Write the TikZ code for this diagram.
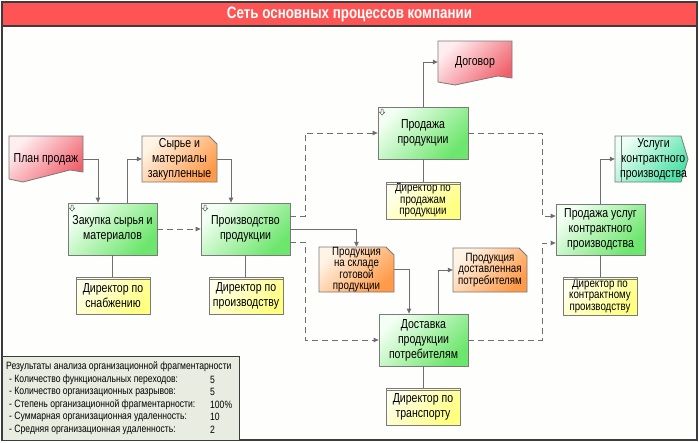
\documentclass[tikz,border=0pt]{standalone}
\usepackage{fontspec}
\setmainfont{Liberation Sans}[FakeStretch=0.81]
\usetikzlibrary{arrows.meta}
\definecolor{framec}{HTML}{3C3C3C}
\definecolor{titlered}{HTML}{FF5454}
\definecolor{connc}{HTML}{6E6E6E}
\definecolor{boxline}{HTML}{7A7A7A}
\definecolor{grnA}{HTML}{F2FFF2}
\definecolor{grnB}{HTML}{6CE66C}
\definecolor{yelA}{HTML}{FFFFEC}
\definecolor{yelB}{HTML}{FFFF80}
\definecolor{orA}{HTML}{FFF4E6}
\definecolor{orB}{HTML}{FF9A48}
\definecolor{pkA}{HTML}{FFEEF0}
\definecolor{pkB}{HTML}{F0606C}
\definecolor{tlA}{HTML}{ECFFF6}
\definecolor{tlB}{HTML}{4CE0A6}
\definecolor{resfill}{HTML}{E9EDE1}
\definecolor{canvas}{HTML}{FEFEFC}
\tikzset{
  base/.style={inner sep=0pt, align=center, font=\fontsize{13}{15}\selectfont},
  tight/.style={font=\fontsize{12}{11.4}\selectfont},
  proc/.style={base, draw=boxline, line width=0.8pt, top color=grnA, bottom color=grnB, shading angle=45, minimum width=89pt, minimum height=52pt},
  dirbox/.style={base, draw=boxline, line width=0.8pt, top color=yelA, bottom color=yelB, shading angle=45, minimum width=74pt, minimum height=37pt},
  lbl/.style={base},
  orshape/.style={draw=boxline, line width=0.8pt, top color=orA, bottom color=orB, shading angle=45},
  pkshape/.style={draw=boxline, line width=0.8pt, top color=pkA, bottom color=pkB, shading angle=45},
  tlshape/.style={draw=boxline, line width=0.8pt, top color=tlA, bottom color=tlB, shading angle=45},
  conn/.style={draw=connc, line width=0.8pt, -{Triangle[length=5pt,width=4.5pt]}},
  dconn/.style={conn, dash pattern=on 6pt off 4pt},
  link/.style={draw=connc, line width=0.8pt},
  iconpath/.style={draw=black!65, fill=white, line width=0.5pt, line join=miter},
  restext/.style={inner sep=0pt, anchor=west, font=\fontsize{10.6}{12}\selectfont},
}
\begin{document}
\begin{tikzpicture}[x=1pt,y=-1pt]
\useasboundingbox (0,0) rectangle (699,442);
\fill[white] (0,0) rectangle (699,442);
% frame and title
\fill[canvas] (2,2) rectangle (697,440);
\fill[titlered] (2,2) rectangle (697,26);
\draw[framec, line width=1.2pt] (2,26) -- (697,26);
\draw[framec, line width=1.2pt] (2,2) rectangle (697,440);
\node[inner sep=0pt, text=white, font=\bfseries\fontsize{16.5}{18}\selectfont] (title) at (349.5,14.5) {Сеть основных процессов компании};

% shapes drawn directly
\path[pkshape] (9,136) -- (83,136) -- (83,172) -- (70,170) -- (23,182) -- (9,179) -- cycle;
\path[pkshape] (438,41) -- (512,41) -- (512,78) -- (498,76) -- (455,85) -- (438,82) -- cycle;
\path[orshape] (142,136) -- (209,136) -- (217,144) -- (217,182) -- (142,182) -- cycle;
\path[orshape] (319,247) -- (386,247) -- (394,255) -- (394,292) -- (319,292) -- cycle;
\path[orshape] (453,248) -- (519,248) -- (527,256) -- (527,292) -- (453,292) -- cycle;
\path[tlshape] (615,136) -- (681,136) -- (688,159) -- (681,182) -- (615,182) -- cycle;
\draw[boxline, line width=0.8pt] (621,136) -- (621,182);

% label nodes over shapes
\node[lbl, minimum width=74pt, minimum height=46pt] (plan) at (46,159) {План продаж};
\node[lbl, minimum width=74pt, minimum height=44pt] (dogovor) at (475,62) {Договор};
\node[lbl, minimum width=75pt, minimum height=46pt] (syr) at (179.5,159) {Сырье и\\материалы\\закупленные};
\node[lbl, tight, minimum width=75pt, minimum height=45pt] (sklad) at (356.5,269.5) {Продукция\\на складе\\готовой\\продукции};
\node[lbl, tight, minimum width=74pt, minimum height=44pt] (dostavl) at (490,270) {Продукция\\доставленная\\потребителям};
\node[lbl, minimum width=73pt, minimum height=46pt] (uslugi) at (651.5,159) {\hspace*{4pt}Услуги\\\hspace*{4pt}контрактного\\\hspace*{4pt}производства};

% processes
\node[proc] (zak) at (112.5,229) {Закупка сырья и\\материалов};
\node[proc] (proizv) at (245.5,229) {Производство\\продукции};
\node[proc, minimum width=90pt] (prodaja) at (423,133) {Продажа\\продукции};
\node[proc] (dost) at (423.5,340) {Доставка\\продукции\\потребителям};
\node[proc, minimum height=51pt] (prus) at (600.5,229.5) {Продажа услуг\\контрактного\\производства};

% small decomposition icons
\foreach \n in {zak,proizv,prodaja}{
  \begin{scope}[shift={(\n.north west)}]
    \path[iconpath] (3.5,2.5) -- (5.5,2.5) -- (5.5,5.5) -- (7.2,5.5) -- (4.5,8.5) -- (1.8,5.5) -- (3.5,5.5) -- cycle;
  \end{scope}
}

% directors
\node[dirbox] (dsn) at (113,295.5) {Директор по\\снабжению};
\node[dirbox] (dpr) at (246,295.5) {Директор по\\производству};
\node[dirbox, tight] (dprod) at (423,200.5) {Директор по\\продажам\\продукции};
\node[dirbox, tight, minimum height=38pt] (dkp) at (600,296) {Директор по\\контрактному\\производству};
\node[dirbox] (dtr) at (423,406.5) {Директор по\\транспорту};
\foreach \d in {dsn,dpr,dprod,dkp,dtr}{
  \draw[boxline, line width=0.6pt] ([yshift=-3pt]\d.north west) -- ([yshift=-3pt]\d.north east);
}

% links to directors
\draw[link] (zak.south) -- (zak.south |- dsn.north);
\draw[link] (proizv.south) -- (proizv.south |- dpr.north);
\draw[link] (prodaja.south) -- (prodaja.south |- dprod.north);
\draw[link] (dost.south) -- (dost.south |- dtr.north);
\draw[link] (prus.south) -- (prus.south |- dkp.north);

% connectors
\draw[conn] (plan.east) -| ([xshift=-14.5pt]zak.north);
\draw[conn] ([xshift=14.5pt]zak.north) |- (syr.west);
\draw[conn] (syr.east) -| ([xshift=-14.5pt]proizv.north);
\draw[dconn] (zak.east) -- (proizv.west);
\draw[dconn] ([yshift=13pt]proizv.east) -- ++(15,0) |- (prodaja.west);
\draw[dconn] ([yshift=-13pt]proizv.east) -- ++(15,0) |- (dost.west);
\draw[conn] (proizv.east) -| (sklad.north);
\draw[conn] (sklad.east) -| ([xshift=-14.5pt]dost.north);
\draw[conn] ([xshift=14.5pt]dost.north) |- (dostavl.west);
\draw[conn] (prodaja.north) |- (dogovor.west);
\draw[dconn] (prodaja.east) -- ++(74,0) |- ([yshift=13.5pt]prus.west);
\draw[dconn] (dost.east) -- ++(74,0) |- ([yshift=-13.5pt]prus.west);
\draw[conn] (prus.north) |- (uslugi.west);

% results box
\node[draw=framec, line width=1.2pt, fill=resfill, inner sep=0pt, anchor=north west, minimum width=237pt, minimum height=84pt] (results) at (2,356) {};
\node[restext] (r0) at (6,367) {Результаты анализа организационной фрагментарности};
\node[restext] (r1) at (9,379.5) {- Количество функциональных переходов:};
\node[restext] (r2) at (9,392) {- Количество организационных разрывов:};
\node[restext] (r3) at (9,404.5) {- Степень организационной фрагментарности:};
\node[restext] (r4) at (9,417) {- Суммарная организационная удаленность:};
\node[restext] (r5) at (9,429.5) {- Средняя организационная удаленность:};
\node[restext] (v1) at (210,379.5) {5};
\node[restext] (v2) at (210,392) {5};
\node[restext] (v3) at (210,404.5) {100\%};
\node[restext] (v4) at (210,417) {10};
\node[restext] (v5) at (210,429.5) {2};
\end{tikzpicture}
\end{document}
